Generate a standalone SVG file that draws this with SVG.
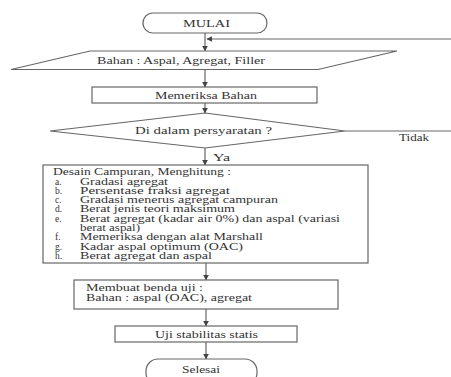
<svg xmlns="http://www.w3.org/2000/svg" width="451" height="377" viewBox="0 0 451 377">
<defs>
<style>
.s{fill:#fff;stroke:#666;stroke-width:1.2}
.c{fill:none;stroke:#666;stroke-width:1.2}
text{font-family:"Liberation Serif","Times New Roman",serif;font-size:9.5px;fill:#333}
.m{text-anchor:start}
</style>
<marker id="ah" viewBox="0 0 10 10" refX="9" refY="5" markerWidth="6" markerHeight="6" orient="auto" markerUnits="userSpaceOnUse">
<path d="M0,0 L10,5 L0,10 z" fill="#444"/>
</marker>
</defs>
<rect width="451" height="377" fill="#fff"/>
<g id="connectors">
<line class="c" x1="205" y1="33" x2="205" y2="51" marker-end="url(#ah)"/>
<line class="c" x1="451" y1="39" x2="207" y2="39" marker-end="url(#ah)"/>
<line class="c" x1="205" y1="70" x2="205" y2="87" marker-end="url(#ah)"/>
<line class="c" x1="205" y1="103" x2="205" y2="113" marker-end="url(#ah)"/>
<line class="c" x1="345" y1="131" x2="451" y2="131"/>
<line class="c" x1="205" y1="148" x2="205" y2="165" marker-end="url(#ah)"/>
<line class="c" x1="206" y1="263" x2="206" y2="280" marker-end="url(#ah)"/>
<line class="c" x1="206" y1="309" x2="206" y2="326" marker-end="url(#ah)"/>
<line class="c" x1="206" y1="342" x2="206" y2="359" marker-end="url(#ah)"/>
<text x="399" y="141" textLength="30" lengthAdjust="spacingAndGlyphs">Tidak</text>
<text x="213" y="161" textLength="17" lengthAdjust="spacingAndGlyphs">Ya</text>
</g>
<g id="mulai">
<rect class="s" x="143" y="13" width="124" height="20" rx="10" ry="10"/>
<text x="183" y="26.5" textLength="47" lengthAdjust="spacingAndGlyphs">MULAI</text>
</g>
<g id="bahan">
<polygon class="s" points="90,51 397,51 318,69.5 11,69.5"/>
<text x="97" y="64" textLength="168" lengthAdjust="spacingAndGlyphs">Bahan : Aspal, Agregat, Filler</text>
</g>
<g id="memeriksa">
<rect class="s" x="92" y="87" width="225" height="16"/>
<text x="155" y="98.5" textLength="102" lengthAdjust="spacingAndGlyphs">Memeriksa Bahan</text>
</g>
<g id="keputusan">
<polygon class="s" points="205,113 345,131 205,148 50,131"/>
<text x="135" y="134" textLength="137" lengthAdjust="spacingAndGlyphs">Di dalam persyaratan ?</text>
</g>
<g id="desain">
<rect class="s" x="43" y="165" width="325" height="98"/>
<text x="53" y="175" textLength="178" lengthAdjust="spacingAndGlyphs">Desain Campuran, Menghitung :</text>
<text x="55" y="184.5">a.</text><text x="80" y="184.5" textLength="88" lengthAdjust="spacingAndGlyphs">Gradasi agregat</text>
<text x="55" y="193.8">b.</text><text x="80" y="193.8" textLength="150" lengthAdjust="spacingAndGlyphs">Persentase fraksi agregat</text>
<text x="55" y="203.1">c.</text><text x="80" y="203.1" textLength="198" lengthAdjust="spacingAndGlyphs">Gradasi menerus agregat campuran</text>
<text x="55" y="212.4">d.</text><text x="80" y="212.4" textLength="155" lengthAdjust="spacingAndGlyphs">Berat jenis teori maksimum</text>
<text x="55" y="221.7">e.</text><text x="80" y="221.7" textLength="260" lengthAdjust="spacingAndGlyphs">Berat agregat (kadar air 0%) dan aspal (variasi</text>
<text x="80" y="231" textLength="60" lengthAdjust="spacingAndGlyphs">berat aspal)</text>
<text x="55" y="240.3">f.</text><text x="80" y="240.3" textLength="183" lengthAdjust="spacingAndGlyphs">Memeriksa dengan alat Marshall</text>
<text x="55" y="249.6">g.</text><text x="80" y="249.6" textLength="163" lengthAdjust="spacingAndGlyphs">Kadar aspal optimum (OAC)</text>
<text x="55" y="258.9">h.</text><text x="80" y="258.9" textLength="132" lengthAdjust="spacingAndGlyphs">Berat agregat dan aspal</text>
</g>
<g id="benda-uji">
<rect class="s" x="74" y="280" width="264" height="29"/>
<text x="86" y="291" textLength="117" lengthAdjust="spacingAndGlyphs">Membuat benda uji :</text>
<text x="86" y="301" textLength="166" lengthAdjust="spacingAndGlyphs">Bahan : aspal (OAC), agregat</text>
</g>
<g id="uji">
<rect class="s" x="115" y="326" width="182" height="16"/>
<text x="155" y="337.5" textLength="103" lengthAdjust="spacingAndGlyphs">Uji stabilitas statis</text>
</g>
<g id="selesai">
<rect class="s" x="146" y="359" width="111" height="26" rx="12" ry="12"/>
<text x="182" y="373" textLength="38" lengthAdjust="spacingAndGlyphs">Selesai</text>
</g>
</svg>
